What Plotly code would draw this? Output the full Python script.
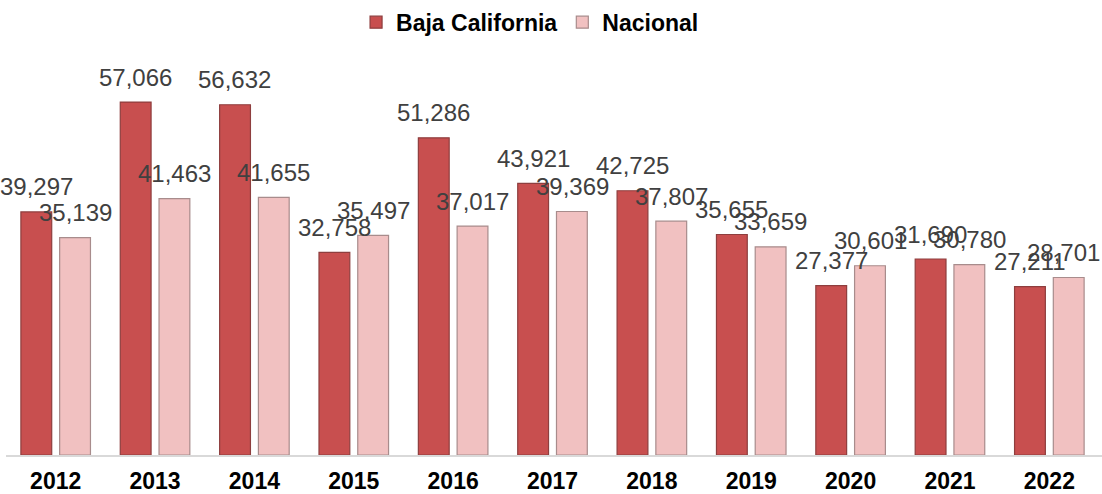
import plotly.graph_objects as go

years = ["2012", "2013", "2014", "2015", "2016", "2017", "2018", "2019", "2020", "2021", "2022"]
baja_california = [39297, 57066, 56632, 32758, 51286, 43921, 42725, 35655, 27377, 31690, 27211]
nacional = [35139, 41463, 41655, 35497, 37017, 39369, 37807, 33659, 30601, 30780, 28701]

def fmt(v):
    return f"{v:,}"

FONT = "Liberation Sans, Arial"

fig = go.Figure()
fig.add_trace(go.Bar(
    x=years, y=baja_california, name="Baja California",
    marker=dict(color="#C84F4F", line=dict(color="#8E3E3E", width=1.2)),
))
fig.add_trace(go.Bar(
    x=years, y=nacional, name="Nacional",
    marker=dict(color="#F1C1C1", line=dict(color="#A88C8C", width=1.2)),
))

# value labels above each bar (x given as category index)
n = len(years)
for series, dx in ((baja_california, -19.5), (nacional, 19.5)):
    for i, v in enumerate(series):
        shift = dx
        if dx > 0 and i == n - 1:
            shift = dx - 5  # keep the last label inside the chart edge
        fig.add_annotation(x=i, y=v, text=fmt(v), showarrow=False,
                           xshift=shift, yshift=25, yanchor="middle", xanchor="center",
                           font=dict(size=24, color="#404040", family=FONT))

fig.update_layout(
    width=1102, height=494,
    margin=dict(l=6, r=0, t=53, b=39),
    paper_bgcolor="white", plot_bgcolor="white",
    barmode="group", bargap=0.22, bargroupgap=0.205,
    font=dict(family=FONT, color="black"),
    showlegend=True,
    legend=dict(orientation="h", xref="container", x=0.481, xanchor="center",
                yref="container", y=0.955, yanchor="middle",
                font=dict(size=23, family=FONT, color="black", weight="bold"),
                tracegroupgap=0),
    xaxis=dict(showline=True, linecolor="#D9D9D9", linewidth=2, ticks="",
               type="category", range=[-0.5, 10.53], automargin=False,
               tickfont=dict(size=23, weight="bold", color="black"), ticklabelstandoff=4),
    yaxis=dict(visible=False, range=[0, 65000], showgrid=False, automargin=False),
)

fig.write_html("out.html", config={"displayModeBar": False},
               post_script="document.body.style.margin='0';")
